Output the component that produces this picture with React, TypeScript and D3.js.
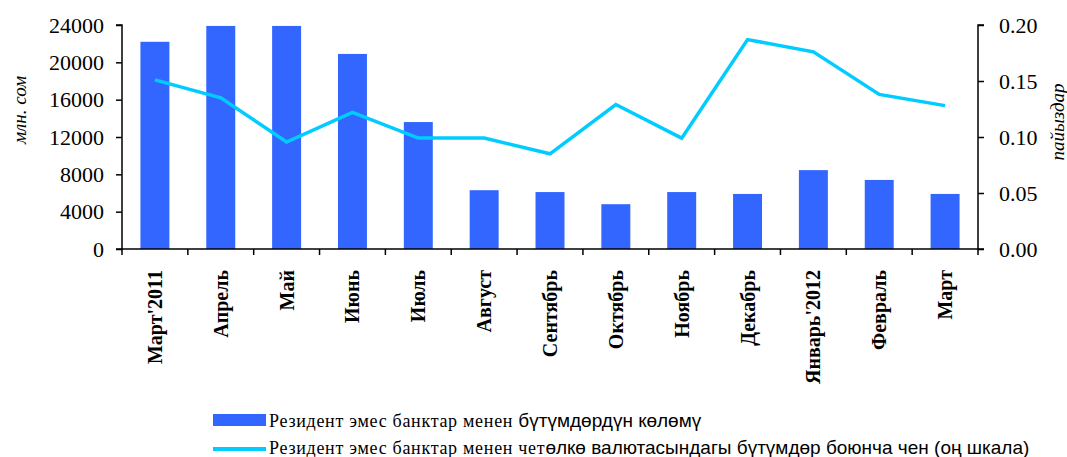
import { useEffect, useRef } from 'react'
import * as d3 from 'd3'

const months = [
  "Март'2011",
  'Апрель',
  'Май',
  'Июнь',
  'Июль',
  'Август',
  'Сентябрь',
  'Октябрь',
  'Ноябрь',
  'Декабрь',
  "Январь'2012",
  'Февраль',
  'Март',
]

// volume of deals with non-resident banks, mln som
const volume = [22200, 23900, 23900, 20900, 13600, 6300, 6100, 4800, 6100, 5900, 8450, 7400, 5900]

// rate on foreign currency deals, percent (right scale)
const rate = [0.151, 0.135, 0.0955, 0.122, 0.099, 0.099, 0.085, 0.129, 0.099, 0.187, 0.176, 0.138, 0.128]

const leftTicks = [0, 4000, 8000, 12000, 16000, 20000, 24000]
const rightTicks = [0, 0.05, 0.1, 0.15, 0.2]

const legendBar = ['Резидент эмес банктар менен ', 'бүтүмдөрдүн көлөмү']
const legendLine = ['Резидент эмес банктар менен чет', 'өлкө валютасындагы бүтүмдөр боюнча чен (оң шкала)']

const App = () => {
  const ref = useRef<SVGSVGElement>(null)

  useEffect(() => {
    const width = 1067
    const height = 457
    const left = 122
    const right = 978
    const top = 25
    const bottom = 249

    const svg = d3.select(ref.current)
    svg.selectAll('*').remove()

    const x = d3.scaleBand().domain(months).range([left, right]).paddingInner(0.56).paddingOuter(0.28)
    const yL = d3.scaleLinear().domain([0, 24000]).range([bottom, top])
    const yR = d3.scaleLinear().domain([0, 0.2]).range([bottom, top])

    const serif = '"Liberation Serif", "Times New Roman", serif'

    // bars
    svg.append('g')
      .selectAll('rect')
      .data(volume)
      .join('rect')
      .attr('x', (_, i) => x(months[i]) as number)
      .attr('y', (d) => yL(d))
      .attr('width', x.bandwidth())
      .attr('height', (d) => bottom - yL(d))
      .attr('fill', '#3366ff')

    // line
    const line = d3.line<number>()
      .x((_, i) => (x(months[i]) as number) + x.bandwidth() / 2)
      .y((d) => yR(d))
    svg.append('path')
      .datum(rate)
      .attr('d', line)
      .attr('fill', 'none')
      .attr('stroke', '#00ccff')
      .attr('stroke-width', 3.5)

    // left axis
    const gl = svg.append('g')
      .attr('transform', `translate(${left},0)`)
      .call(d3.axisLeft(yL).tickValues(leftTicks).tickSize(6).tickPadding(12).tickFormat(d3.format('d')))
    gl.select('.domain').attr('stroke', '#000').attr('stroke-width', 1.5).attr('d', `M-6,${bottom}H0V${top}H-6`)
    gl.selectAll('.tick line').attr('stroke-width', 1.5)
    gl.selectAll('text').attr('font-family', serif).attr('font-size', 22).attr('fill', '#000')

    // right axis
    const gr = svg.append('g')
      .attr('transform', `translate(${right},0)`)
      .call(d3.axisRight(yR).tickValues(rightTicks).tickSize(6).tickPadding(15).tickFormat(d3.format('.2f')))
    gr.select('.domain').attr('stroke', '#000').attr('stroke-width', 1.5).attr('d', `M6,${bottom}H0V${top}H6`)
    gr.selectAll('.tick line').attr('stroke-width', 1.5)
    gr.selectAll('text').attr('font-family', serif).attr('font-size', 22).attr('fill', '#000')

    // bottom axis
    const step = x.step()
    svg.append('line')
      .attr('x1', left).attr('x2', right)
      .attr('y1', bottom).attr('y2', bottom)
      .attr('stroke', '#000').attr('stroke-width', 1.5)
    svg.append('g')
      .selectAll('line')
      .data(d3.range(months.length + 1))
      .join('line')
      .attr('x1', (i) => left + i * step)
      .attr('x2', (i) => left + i * step)
      .attr('y1', bottom)
      .attr('y2', bottom + 6)
      .attr('stroke', '#000')
      .attr('stroke-width', 1.5)

    svg.append('g')
      .selectAll('text')
      .data(months)
      .join('text')
      .attr('transform', (d) => `translate(${(x(d) as number) + x.bandwidth() / 2},270) rotate(-90)`)
      .attr('text-anchor', 'end')
      .attr('dy', '0.35em')
      .attr('font-family', serif)
      .attr('font-weight', 'bold')
      .attr('font-size', 20)
      .text((d) => d)

    // axis titles
    svg.append('text')
      .attr('transform', 'translate(19,110) rotate(-90)')
      .attr('text-anchor', 'middle')
      .attr('dy', '0.35em')
      .attr('font-family', serif)
      .attr('font-style', 'italic')
      .attr('font-size', 19)
      .text('млн. сом')
    svg.append('text')
      .attr('transform', 'translate(1057,122) rotate(-90)')
      .attr('text-anchor', 'middle')
      .attr('dy', '0.35em')
      .attr('font-family', serif)
      .attr('font-style', 'italic')
      .attr('font-size', 19)
      .text('пайыздар')

    // legend
    const sans = '"Liberation Sans", Arial, sans-serif'
    svg.append('rect')
      .attr('x', 213).attr('y', 414).attr('width', 53).attr('height', 12)
      .attr('fill', '#3366ff')
    const t1 = svg.append('text').attr('x', 269).attr('y', 427)
    t1.append('tspan').attr('font-family', serif).attr('font-size', 18).attr('letter-spacing', 0.7).text(legendBar[0])
    t1.append('tspan').attr('font-family', sans).attr('font-size', 19).text(legendBar[1])

    svg.append('line')
      .attr('x1', 213).attr('x2', 266).attr('y1', 449).attr('y2', 449)
      .attr('stroke', '#00ccff').attr('stroke-width', 4)
    const t2 = svg.append('text').attr('x', 269).attr('y', 454)
    t2.append('tspan').attr('font-family', serif).attr('font-size', 18).attr('letter-spacing', 0.7).text(legendLine[0])
    t2.append('tspan').attr('font-family', sans).attr('font-size', 19).text(legendLine[1])

    svg.attr('width', width).attr('height', height)
  }, [])

  return (
    <svg
      ref={ref}
      width={1067}
      height={457}
      style={{ position: 'absolute', left: 0, top: 0, background: '#fff' }}
    />
  )
}

export default App
